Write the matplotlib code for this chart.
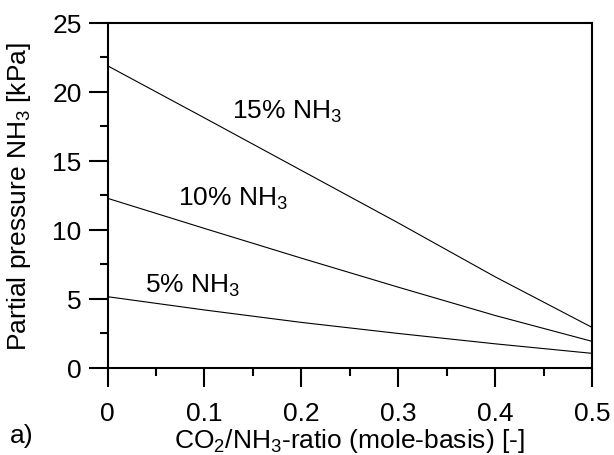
import numpy as np
import matplotlib
matplotlib.use("Agg")
import matplotlib.pyplot as plt

plt.rcParams['font.family'] = ['Liberation Sans', 'DejaVu Sans']
plt.rcParams['mathtext.fontset'] = 'custom'
plt.rcParams['mathtext.rm'] = 'Liberation Sans'
plt.rcParams['mathtext.it'] = 'Liberation Sans:italic'
plt.rcParams['mathtext.default'] = 'regular'

# CO2/NH3 ratio and partial pressure of NH3 (kPa)
ratio = [0.0, 0.1, 0.2, 0.3, 0.4, 0.5]
p_15 = [21.87, 18.1, 14.3, 10.5, 6.6, 2.94]
p_10 = [12.28, 10.1, 7.95, 5.85, 3.8, 1.93]
p_5 = [5.16, 4.2, 3.3, 2.5, 1.75, 1.06]

series = [
    (p_15, '15% NH$_3$', (0.128, 18.1)),
    (p_10, '10% NH$_3$', (0.073, 11.84)),
    (p_5, '5% NH$_3$', (0.039, 5.52)),
]

fs = 19

fig = plt.figure(figsize=(6.14, 4.56), dpi=100)
ax = fig.add_axes([107.5 / 614, 1 - 369 / 456, 484.5 / 614, 345.5 / 456])

for vals, label, pos in series:
    ax.plot(ratio, vals, color='black', lw=0.8)
    ax.text(pos[0], pos[1], label, fontsize=fs, ha='left', va='baseline')

ax.set_xlim(0, 0.5)
ax.set_ylim(0, 25)
ax.set_xticks(np.arange(0, 0.51, 0.1))
ax.set_xticklabels(['0', '0.1', '0.2', '0.3', '0.4', '0.5'])
ax.set_yticks(np.arange(0, 26, 5))
ax.set_xticks(np.arange(0.05, 0.5, 0.1), minor=True)
ax.set_yticks(np.arange(2.5, 25, 5), minor=True)

for s in ax.spines.values():
    s.set_linewidth(1.5)
ax.tick_params(which='major', direction='out', length=13.7, width=1.5, labelsize=fs)
ax.tick_params(which='minor', direction='out', length=5.8, width=1.5)
ax.tick_params(axis='x', which='major', pad=10)
ax.tick_params(axis='y', which='major', pad=5)

ax.set_xlabel('CO$_2$/NH$_3$-ratio (mole-basis) [-]', fontsize=fs)
ax.set_ylabel('Partial pressure NH$_3$ [kPa]', fontsize=fs)
ax.xaxis.set_label_coords(0.5, -0.168)
ax.yaxis.set_label_coords(-0.154, 0.5)

fig.text(10 / 614, (456 - 443) / 456, 'a)', fontsize=fs, ha='left', va='baseline')

fig.savefig('out.png', dpi=100)
